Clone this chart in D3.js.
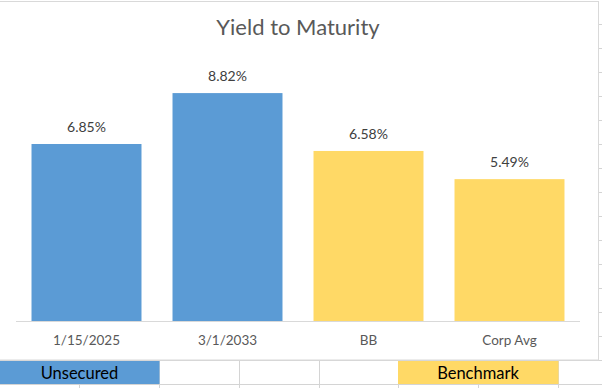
<!DOCTYPE html>
<html><head><meta charset="utf-8">
<script src="https://cdn.jsdelivr.net/npm/d3@7"></script>
<style>html,body{margin:0;padding:0;background:#fff;overflow:hidden}svg{display:block}</style>
</head><body>
<script>
const title = "Yield to Maturity";
const categories = ["1/15/2025", "3/1/2033", "BB", "Corp Avg"];
const values = [6.85, 8.82, 6.58, 5.49];
const groups = ["Unsecured", "Unsecured", "Benchmark", "Benchmark"];
const groupNames = ["Unsecured", "Benchmark"];
const groupColors = ["#5B9BD5", "#FFD966"];

const W = 602, H = 388;
const font = "Lato, 'Noto Sans', sans-serif";
const svg = d3.select("body").append("svg").attr("width", W).attr("height", H);

// spreadsheet grid
const grid = svg.append("g").attr("stroke", "#d4d4d4").attr("stroke-width", 1);
d3.range(24, 388, 24).forEach(y => grid.append("line").attr("x1", 0).attr("x2", W).attr("y1", y + 0.5).attr("y2", y + 0.5));
[79, 159, 239, 319, 398, 478, 558].forEach(x => grid.append("line").attr("x1", x + 0.5).attr("x2", x + 0.5).attr("y1", 360).attr("y2", H));

// legend cells in the sheet row
const cellX = d3.scaleOrdinal().domain(groupNames).range([[0, 159], [398, 558]]);
const color = d3.scaleOrdinal().domain(groupNames).range(groupColors);
groupNames.forEach(g => {
  const [a, b] = cellX(g);
  svg.append("rect").attr("x", a).attr("y", 361).attr("width", b - a + 0.5).attr("height", 23).attr("fill", color(g));
  svg.append("text").attr("x", (a + b) / 2).attr("y", 379).attr("text-anchor", "middle")
    .attr("font-family", font).attr("font-size", 16.5).attr("fill", "#000").text(g);
});

// chart area
svg.append("rect").attr("x", -1).attr("y", 1.5).attr("width", 599.5).attr("height", 358.5)
  .attr("fill", "#fff").attr("stroke", "#d9d9d9").attr("stroke-width", 1);

svg.append("text").attr("x", 298).attr("y", 35).attr("text-anchor", "middle")
  .attr("font-family", font).attr("font-size", 22).attr("fill", "#595959").text(title);

const x = d3.scaleBand().domain(categories).range([16, 580]).paddingInner(0.22).paddingOuter(0.11);
const y = d3.scaleLinear().domain([0, 10]).range([321, 62.6]);

svg.append("g").selectAll("rect").data(categories).join("rect")
  .attr("x", d => x(d)).attr("width", x.bandwidth())
  .attr("y", (d, i) => y(values[i])).attr("height", (d, i) => y(0) - y(values[i]))
  .attr("fill", (d, i) => color(groups[i]));

svg.append("g").selectAll("text").data(categories).join("text")
  .attr("x", d => x(d) + x.bandwidth() / 2).attr("y", (d, i) => y(values[i]) - 12)
  .attr("text-anchor", "middle").attr("font-family", font).attr("font-size", 14)
  .attr("fill", "#404040").text((d, i) => values[i].toFixed(2) + "%");

const xAxis = svg.append("g").attr("transform", `translate(0,${y(0)})`)
  .call(d3.axisBottom(x).tickSize(0).tickPadding(14));
xAxis.select(".domain").attr("stroke", "#d9d9d9").attr("d", "M16,0.5H580");
xAxis.selectAll("text").attr("font-family", font).attr("font-size", 13.5).attr("fill", "#595959");
</script>
</body></html>
